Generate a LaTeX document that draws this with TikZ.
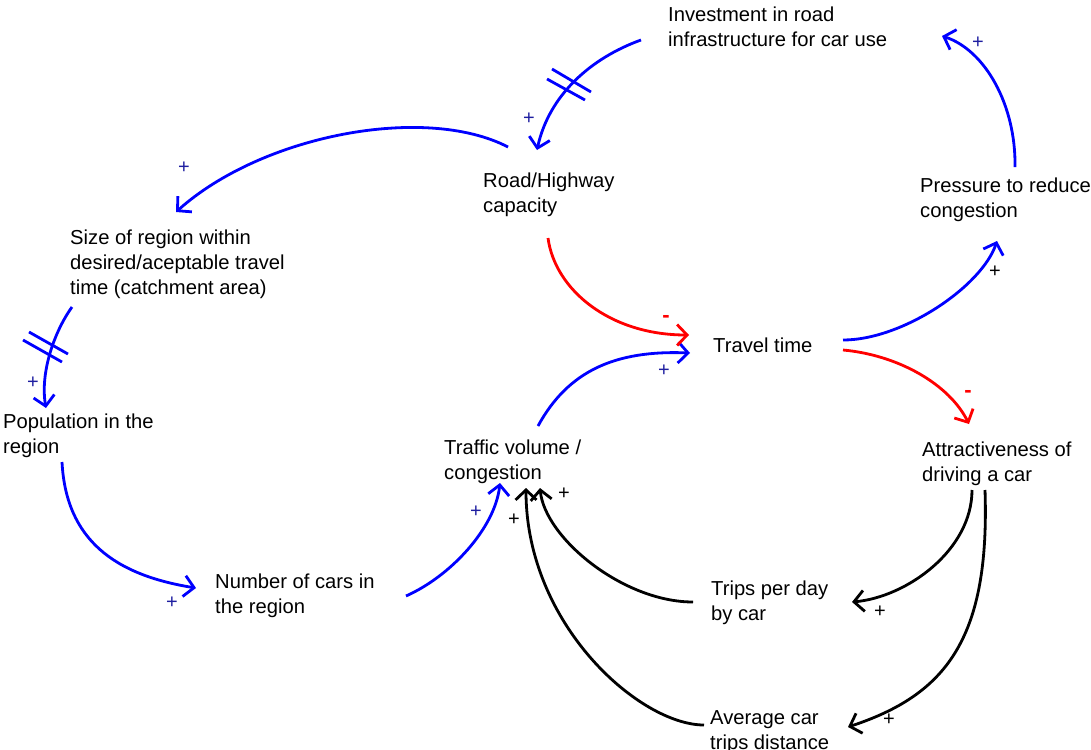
\documentclass[tikz,border=0pt]{standalone}
\usepackage{fontspec}
\setmainfont{Liberation Sans}
\usetikzlibrary{arrows.meta}
\definecolor{linkblue}{RGB}{0,0,255}
\definecolor{linkred}{RGB}{255,0,0}
\definecolor{signblue}{RGB}{30,30,160}
\tikzset{
  x=1pt, y=-1pt,
  var/.style={anchor=north west, inner sep=0pt, align=left,
    font=\fontsize{20.2}{25}\selectfont},
  link/.style={line width=2.8pt, -{Straight Barb[length=10pt,width=21pt,line width=2.8pt]}},
  pos link/.style={link, draw=linkblue},
  neg link/.style={link, draw=linkred},
  aux link/.style={link, draw=black},
  sign/.style={inner sep=0pt, font=\fontsize{20}{20}\selectfont},
  minus/.style={inner sep=0pt, text=linkred, font=\fontsize{22}{22}\selectfont\bfseries},
  delay/.style={line width=2.8pt, draw=linkblue},
}
\begin{document}
\begin{tikzpicture}
\useasboundingbox (0,0) rectangle (1091,749);

% variables
\node[var] (inv)   at (668,7)   {Investment in road\\infrastructure for car use};
\node[var] (road)  at (483,173) {Road/Highway\\capacity};
\node[var] (size)  at (70,230)  {Size of region within\\desired/aceptable travel\\time (catchment area)};
\node[var] (pop)   at (3,414)   {Population in the\\region};
\node[var] (num)   at (215,574) {Number of cars in\\the region};
\node[var] (traf)  at (444,440) {Traffic volume /\\congestion};
\node[var] (tt)    at (713,338) {Travel time};
\node[var] (pres)  at (920,178) {Pressure to reduce\\congestion};
\node[var] (attr)  at (922,442) {Attractiveness of\\driving a car};
\node[var] (trips) at (711,581) {Trips per day\\by car};
\node[var] (avg)   at (710,710) {Average car\\trips distance};

% causal links
\draw[pos link] ([shift={(-27,33)}]inv.north west)
  .. controls +(-50,18) and +(12,-55) .. ([shift={(54,-23)}]road.north west);
\draw[pos link] ([shift={(25,-26)}]road.north west)
  .. controls +(-83,-43) and +(86,-77) .. ([shift={(106,-18)}]size.north west);
\draw[pos link] ([shift={(2,77)}]size.north west)
  .. controls +(-18,25) and +(-6,-35) .. ([shift={(43,-6)}]pop.north west);
\draw[pos link] ([shift={(59,48)}]pop.north west)
  .. controls +(4,78) and +(-81,-13) .. ([shift={(-19,14)}]num.north west);
\draw[pos link] ([shift={(191,22)}]num.north west)
  .. controls +(45,-20) and +(-5,45) .. ([shift={(56,43)}]traf.north west);
\draw[pos link] ([shift={(94,-14)}]traf.north west)
  .. controls +(30,-55) and +(-75,-3) .. ([shift={(-23,15)}]tt.north west);
\draw[neg link] ([shift={(65,65)}]road.north west)
  .. controls +(7,52) and +(-79,0) .. ([shift={(-24,-3)}]tt.north west);
\draw[pos link] ([shift={(130,2)}]tt.north west)
  .. controls +(60,0) and +(-15,45) .. ([shift={(77,63)}]pres.north west);
\draw[pos link] ([shift={(95,-11)}]pres.north west)
  .. controls +(1,-62) and +(43,14) .. ([shift={(274,29)}]inv.north west);
\draw[neg link] ([shift={(130,12)}]tt.north west)
  .. controls +(55,5) and +(-20,-40) .. ([shift={(47,-18)}]attr.north west);
\draw[aux link] ([shift={(50,48)}]attr.north west)
  .. controls +(0,60) and +(55,-5) .. ([shift={(141,21)}]trips.north west);
\draw[aux link] ([shift={(63,48)}]attr.north west)
  .. controls +(5,150) and +(97,-32) .. ([shift={(138,17)}]avg.north west);
\draw[aux link] ([shift={(-18,21)}]trips.north west)
  .. controls +(-70,0) and +(5,50) .. ([shift={(96,48)}]traf.north west);
\draw[aux link] ([shift={(-6,15)}]avg.north west)
  .. controls +(-64,0) and +(0,137) .. ([shift={(82,48)}]traf.north west);

% delay marks
\draw[delay] (552,69) -- (591,92);
\draw[delay] (547,79) -- (585,100);
\draw[delay] (29,332) -- (68,354);
\draw[delay] (23,340) -- (62,362);

% link polarities
\node[sign, text=signblue] (s1)  at (529,119) {+};
\node[sign, text=signblue] (s2)  at (184,168) {+};
\node[sign, text=signblue] (s3)  at (33,383)  {+};
\node[sign, text=signblue] (s4)  at (172,603) {+};
\node[sign, text=signblue] (s5)  at (476,512) {+};
\node[sign, text=signblue] (s6)  at (664,371) {+};
\node[minus]               (s7)  at (666,319) {-};
\node[sign, text=black]    (s8)  at (995,272) {+};
\node[sign, text=signblue] (s9)  at (978,43)  {+};
\node[minus]               (s10) at (968,394) {-};
\node[sign, text=black]    (s11) at (880,612) {+};
\node[sign, text=black]    (s12) at (889,720) {+};
\node[sign, text=black]    (s13) at (564,494) {+};
\node[sign, text=black]    (s14) at (514,520) {+};
\end{tikzpicture}
\end{document}
